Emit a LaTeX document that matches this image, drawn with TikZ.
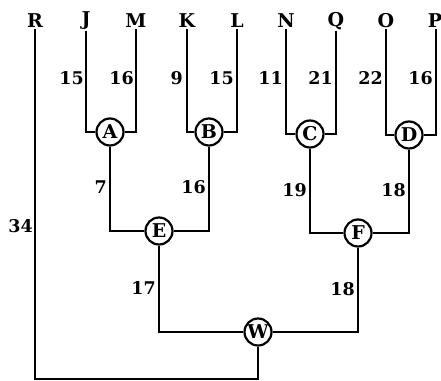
\documentclass[tikz,border=0pt]{standalone}
\usepackage{fontspec}
\setmainfont{DejaVu Serif}
\begin{document}
\begin{tikzpicture}[x=1pt,y=-1pt,
  lbl/.style={font=\bfseries\fontsize{19}{19}\selectfont, inner sep=1pt},
  wt/.style={font=\bfseries\fontsize{17.5}{17.5}\selectfont, inner sep=1pt, anchor=east},
  hub/.style={circle, draw, line width=2.2pt, minimum size=27pt, inner sep=0pt, fill=white,
              font=\bfseries\fontsize{19}{19}\selectfont},
  edge/.style={line width=2.4pt}]
\useasboundingbox (0,0) rectangle (441,380);
% leaves
\node[lbl] (R) at (35,21) {R};
\node[lbl] (J) at (86,21) {J};
\node[lbl] (M) at (136,21) {M};
\node[lbl] (K) at (187,21) {K};
\node[lbl] (L) at (237,21) {L};
\node[lbl] (N) at (286,21) {N};
\node[lbl] (Q) at (336,21) {Q};
\node[lbl] (O) at (386,21) {O};
\node[lbl] (P) at (435,21) {P};
% hubs
\node[hub] (A) at (110,132) {A};
\node[hub] (B) at (209,132) {B};
\node[hub] (C) at (310,134) {C};
\node[hub] (D) at (409,135) {D};
\node[hub] (E) at (159,231) {E};
\node[hub] (F) at (358,233) {F};
\node[hub] (W) at (258,332) {W};
\coordinate (bot) at (258,379);
% connectors
\begin{scope}[edge]
\draw (J.south) |- (A.west);
\draw (M.south) |- (A.east);
\draw (K.south) |- (B.west);
\draw (L.south) |- (B.east);
\draw (N.south) |- (C.west);
\draw (Q.south) |- (C.east);
\draw (O.south) |- (D.west);
\draw (P.south -| 436,0) |- (D.east);
\draw (A.south) |- (E.west);
\draw (B.south) |- (E.east);
\draw (C.south) |- (F.west);
\draw (D.south) |- (F.east);
\draw (E.south) |- (W.west);
\draw (F.south) |- (W.east);
\draw (W.south) -- (bot) -| (R.south);
\end{scope}
% weights
\node[wt] (wJ) at (85,78) {15};
\node[wt] (wM) at (135,78) {16};
\node[wt] (wK) at (184,78) {9};
\node[wt] (wL) at (235,78) {15};
\node[wt] (wN) at (284,78) {11};
\node[wt] (wQ) at (334,78) {21};
\node[wt] (wO) at (384,78) {22};
\node[wt] (wP) at (434,78) {16};
\node[wt] (wA) at (108,187) {7};
\node[wt] (wB) at (207,187) {16};
\node[wt] (wC) at (308,190) {19};
\node[wt] (wD) at (407,190) {18};
\node[wt] (wE) at (157,288) {17};
\node[wt] (wF) at (356,289) {18};
\node[wt] (wR) at (34,226) {34};
\end{tikzpicture}
\end{document}
